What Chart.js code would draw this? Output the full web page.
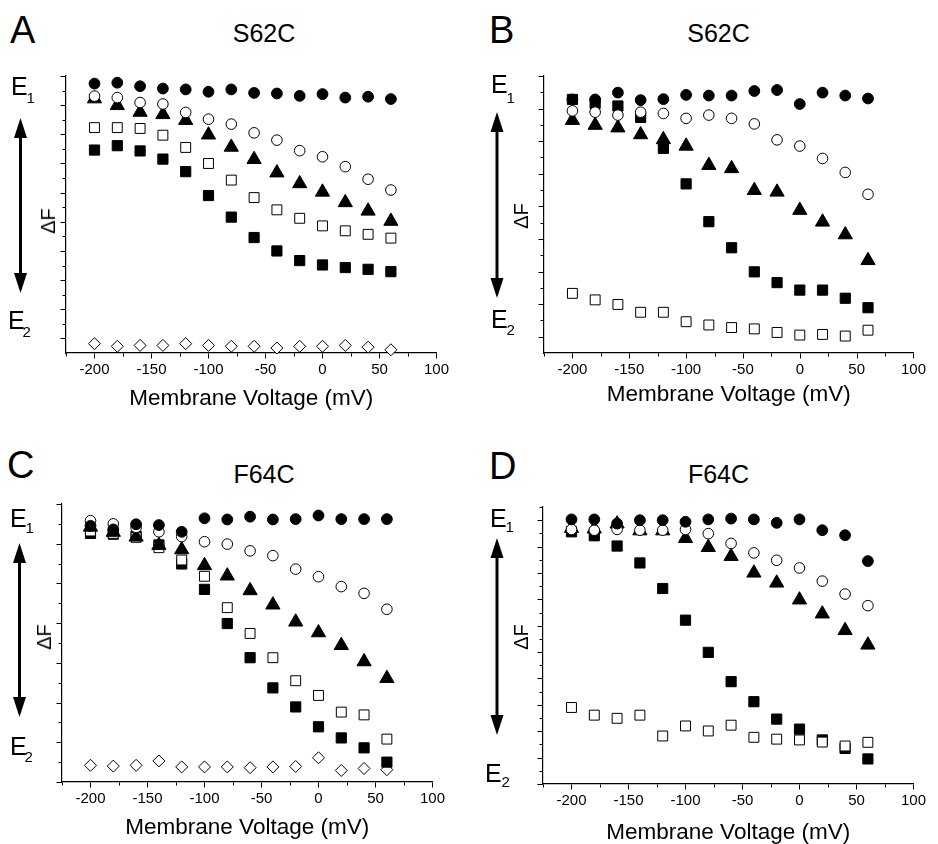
<!DOCTYPE html>
<html>
<head>
<meta charset="utf-8">
<script src="https://cdn.jsdelivr.net/npm/chart.js@4.4.1/dist/chart.umd.min.js"></script>
<style>
  html, body { margin: 0; padding: 0; background: #fff; width: 938px; height: 844px; overflow: hidden; }
  body { position: relative; font-family: 'Liberation Sans', Arial, sans-serif; color: #000; }
  canvas { position: absolute; }
  .t { position: absolute; line-height: 1; white-space: nowrap; }
  svg { position: absolute; left: 0; top: 0; }
</style>
</head>
<body>
<svg id="arrows" width="938" height="844"></svg>
<script>
// ---------------- DATA ----------------
const voltages = [-200, -180, -160, -140, -120, -100, -80, -60, -40, -20, 0, 20, 40, 60];
const xTickLabels = [-200, -150, -100, -50, 0, 50, 100];
const xMinorTicks = [-225, -175, -125, -75, -25, 25, 75];

// Panel A (S62C)
const aFilledCircle = [8.74, 8.77, 8.65, 8.57, 8.54, 8.46, 8.54, 8.42, 8.40, 8.32, 8.38, 8.26, 8.29, 8.21];
const aOpenCircle   = [8.31, 8.26, 8.09, 8.04, 7.75, 7.52, 7.35, 7.05, 6.80, 6.44, 6.23, 5.89, 5.46, 5.09];
const aTriangle     = [8.22, 7.99, 7.76, 7.68, 7.48, 6.98, 6.56, 6.14, 5.68, 5.31, 5.02, 4.66, 4.37, 4.02];
const aOpenSquare   = [7.23, 7.23, 7.20, 6.97, 6.55, 6.00, 5.43, 4.83, 4.41, 4.12, 3.86, 3.69, 3.57, 3.44];
const aFilledSquare = [6.46, 6.61, 6.43, 6.15, 5.72, 4.90, 4.16, 3.46, 3.00, 2.67, 2.52, 2.43, 2.37, 2.29];
const aDiamond      = [-0.18, -0.27, -0.24, -0.24, -0.18, -0.24, -0.27, -0.27, -0.33, -0.27, -0.27, -0.24, -0.30, -0.39];
const aYMajor = [0, 1, 2, 3, 4, 5, 6, 7, 8, 9];
const aYMinor = [0.5, 1.5, 2.5, 3.5, 4.5, 5.5, 6.5, 7.5, 8.5];

// Panel B (S62C)
const bFilledCircle = [7.28, 7.28, 7.49, 7.26, 7.29, 7.42, 7.40, 7.40, 7.54, 7.57, 7.14, 7.49, 7.40, 7.31];
const bOpenCircle   = [6.93, 6.89, 6.80, 6.89, 6.85, 6.70, 6.80, 6.70, 6.53, 6.04, 5.85, 5.47, 5.04, 4.37];
const bTriangle     = [6.64, 6.49, 6.41, 6.20, 6.05, 5.85, 5.26, 5.16, 4.49, 4.44, 3.88, 3.52, 3.13, 2.34];
const bFilledSquare = [7.28, 7.16, 7.08, 6.73, 5.78, 4.69, 3.53, 2.73, 1.99, 1.66, 1.43, 1.43, 1.18, 0.89];
const bOpenSquare   = [1.33, 1.13, 0.99, 0.75, 0.75, 0.46, 0.36, 0.28, 0.24, 0.13, 0.05, 0.07, 0.02, 0.20];
const bYMajor = [0, 1, 2, 3, 4, 5, 6, 7, 8];
const bYMinor = [0.5, 1.5, 2.5, 3.5, 4.5, 5.5, 6.5, 7.5];

// Panel C (F64C)
const cFilledCircle = [6.45, 6.36, 6.49, 6.47, 6.30, 6.64, 6.61, 6.68, 6.61, 6.62, 6.71, 6.62, 6.62, 6.62];
const cOpenCircle   = [6.58, 6.50, 6.41, 6.30, 6.18, 6.05, 5.99, 5.82, 5.70, 5.36, 5.17, 4.92, 4.75, 4.35];
const cTriangle     = [6.42, 6.29, 6.17, 5.96, 5.85, 5.45, 5.19, 4.82, 4.46, 4.03, 3.76, 3.44, 3.03, 2.61];
const cOpenSquare   = [6.32, 6.26, 6.16, 5.90, 5.59, 5.18, 4.39, 3.74, 3.13, 2.55, 2.18, 1.76, 1.69, 1.08];
const cFilledSquare = [6.26, 6.24, 6.19, 5.97, 5.49, 4.85, 3.99, 3.13, 2.37, 1.89, 1.39, 1.11, 0.86, 0.50];
const cDiamond      = [0.42, 0.40, 0.42, 0.53, 0.38, 0.38, 0.38, 0.36, 0.38, 0.39, 0.61, 0.29, 0.34, 0.31];
const cYMajor = [0, 1, 2, 3, 4, 5, 6, 7];
const cYMinor = [0.5, 1.5, 2.5, 3.5, 4.5, 5.5, 6.5];

// Panel D (F64C)
const dFilledCircle = [10.03, 10.03, 9.87, 10.00, 10.00, 9.94, 10.03, 10.06, 10.03, 9.90, 10.03, 9.62, 9.43, 8.45];
const dOpenCircle   = [9.65, 9.62, 9.65, 9.62, 9.62, 9.65, 9.49, 9.12, 8.76, 8.48, 8.19, 7.69, 7.20, 6.76];
const dTriangle     = [9.69, 9.67, 9.86, 9.60, 9.60, 9.31, 8.97, 8.63, 8.00, 7.62, 6.98, 6.45, 5.82, 5.27];
const dFilledSquare = [9.56, 9.41, 9.02, 8.38, 7.41, 6.21, 4.99, 3.88, 3.12, 2.46, 2.08, 1.67, 1.35, 0.95];
const dOpenSquare   = [2.90, 2.61, 2.49, 2.61, 1.82, 2.20, 2.01, 2.23, 1.77, 1.70, 1.67, 1.59, 1.44, 1.58];
const dYMajor = [0, 1, 2, 3, 4, 5, 6, 7, 8, 9, 10];
const dYMinor = [0.5, 1.5, 2.5, 3.5, 4.5, 5.5, 6.5, 7.5, 8.5, 9.5, 10.5];

const panelLetters = ['A', 'B', 'C', 'D'];
const panelTitles = ['S62C', 'S62C', 'F64C', 'F64C'];
const xAxisTitle = 'Membrane Voltage (mV)';
const yAxisTitle = '\u0394F';

// ---------------- STYLES ----------------
const FONT = "'Liberation Sans', Arial, sans-serif";
const STYLE = {
  filledCircle: { pointStyle: 'circle', radius: 5.4, bg: '#000' },
  openCircle:   { pointStyle: 'circle', radius: 5.3, bg: '#fff' },
  triangle:     { pointStyle: 'triangle', radius: 8.2, bg: '#000' },
  openSquare:   { pointStyle: 'rect', radius: 7, bg: '#fff' },
  filledSquare: { pointStyle: 'rect', radius: 7.2, bg: '#000' },
  diamond:      { pointStyle: 'rectRot', radius: 6, bg: '#fff' }
};

const tickPlugin = {
  id: 'tickMarks',
  afterDraw(chart, args, opts) {
    const ctx = chart.ctx, xs = chart.scales.x, ys = chart.scales.y, ca = chart.chartArea;
    ctx.save();
    ctx.strokeStyle = '#000';
    ctx.lineWidth = 1;
    ctx.beginPath();
    const yAxisX = Math.round(ca.left) - 0.5;
    const xAxisY = Math.round(ca.bottom) + 0.5;
    const drawX = (vals, len) => vals.forEach(v => {
      const px = Math.round(xs.getPixelForValue(v)) + 0.5;
      ctx.moveTo(px, xAxisY); ctx.lineTo(px, xAxisY + len);
    });
    const drawY = (vals, len) => vals.forEach(v => {
      const py = Math.round(ys.getPixelForValue(v)) + 0.5;
      ctx.moveTo(yAxisX, py); ctx.lineTo(yAxisX - len, py);
    });
    drawX(opts.xMajor, 5); drawX(opts.xMinor, 3);
    drawY(opts.yMajor, 5); drawY(opts.yMinor, 3);
    ctx.stroke();
    ctx.restore();
  }
};

// ---------------- LAYOUT ----------------
const PAD_L = 40, PAD_R = 12, PAD_T = 10, PAD_B = 66;
const panels = [
  { area: [66, 76, 445, 353], yMin: -0.5, yMax: 9, yMajor: aYMajor, yMinor: aYMinor, titleY: 399,
    series: [['filledCircle', aFilledCircle], ['openCircle', aOpenCircle], ['triangle', aTriangle], ['openSquare', aOpenSquare], ['filledSquare', aFilledSquare], ['diamond', aDiamond]] },
  { area: [544, 76, 922, 353], yMin: -0.5, yMax: 8, yMajor: bYMajor, yMinor: bYMinor, titleY: 394.5,
    series: [['filledCircle', bFilledCircle], ['openCircle', bOpenCircle], ['triangle', bTriangle], ['openSquare', bOpenSquare], ['filledSquare', bFilledSquare]] },
  { area: [62, 504, 441, 782], yMin: 0, yMax: 7, yMajor: cYMajor, yMinor: cYMinor, titleY: 828,
    series: [['filledCircle', cFilledCircle], ['openCircle', cOpenCircle], ['triangle', cTriangle], ['openSquare', cOpenSquare], ['filledSquare', cFilledSquare], ['diamond', cDiamond]] },
  { area: [543, 507, 922, 784], yMin: 0, yMax: 10.5, yMajor: dYMajor, yMinor: dYMinor, titleY: 833,
    series: [['filledCircle', dFilledCircle], ['openCircle', dOpenCircle], ['triangle', dTriangle], ['openSquare', dOpenSquare], ['filledSquare', dFilledSquare]] }
];

panels.forEach(p => {
  const [L, T, R, B] = p.area;
  const W = R - L + PAD_L + PAD_R, H = B - T + PAD_T + PAD_B;
  const cv = document.createElement('canvas');
  cv.width = W; cv.height = H;
  cv.style.left = (L - PAD_L) + 'px'; cv.style.top = (T - PAD_T) + 'px';
  cv.style.width = W + 'px'; cv.style.height = H + 'px';
  document.body.appendChild(cv);
  const titleSize = 22.5;
  const titleLH = titleSize * 1.2;
  const titlePadBottom = (B + PAD_B) - titleLH / 2 - p.titleY;
  new Chart(cv, {
    type: 'scatter',
    data: {
      datasets: p.series.map(([kind, vals]) => ({
        label: kind,
        data: voltages.map((v, i) => ({ x: v, y: vals[i] })),
        pointStyle: STYLE[kind].pointStyle,
        pointRadius: STYLE[kind].radius,
        pointBackgroundColor: STYLE[kind].bg,
        pointBorderColor: '#000',
        pointBorderWidth: 1,
        showLine: false,
        clip: false
      }))
    },
    options: {
      responsive: false, animation: false, devicePixelRatio: 1, events: [],
      layout: { padding: { left: 0, right: PAD_R, top: PAD_T, bottom: 0 } },
      plugins: {
        legend: { display: false }, tooltip: { enabled: false }, title: { display: false },
        tickMarks: { xMajor: xTickLabels, xMinor: xMinorTicks, yMajor: p.yMajor, yMinor: p.yMinor }
      },
      scales: {
        x: {
          type: 'linear', min: -225, max: 100,
          afterBuildTicks: s => { s.ticks = xTickLabels.map(v => ({ value: v })); },
          afterFit: s => { s.height = PAD_B; },
          grid: { display: false, drawTicks: false },
          border: { display: true, color: '#000', width: 1.2 },
          ticks: { color: '#000', font: { family: FONT, size: 15 }, padding: 8, maxRotation: 0, autoSkip: false },
          title: { display: true, text: xAxisTitle, color: '#000', font: { family: FONT, size: titleSize },
                   padding: { top: 0, bottom: titlePadBottom } }
        },
        y: {
          type: 'linear', min: p.yMin, max: p.yMax,
          afterBuildTicks: s => { s.ticks = p.yMajor.map(v => ({ value: v })); },
          afterFit: s => { s.width = PAD_L; },
          grid: { display: false, drawTicks: false },
          border: { display: true, color: '#000', width: 1.2 },
          ticks: { display: false }
        }
      }
    },
    plugins: [tickPlugin]
  });
});

// ---------------- TEXT ----------------
function txt(s, x, baseline, size, center, extra) {
  const d = document.createElement('div');
  d.className = 't';
  d.textContent = s;
  d.style.fontSize = size + 'px';
  d.style.left = x + 'px';
  d.style.top = (baseline - 0.8465 * size) + 'px';
  if (center) d.style.transform = 'translateX(-50%)';
  if (extra) Object.assign(d.style, extra);
  document.body.appendChild(d);
  return d;
}
const letterPos = [[10, 43], [489, 43], [7, 478], [489, 479]];
const titlePos = [[264, 42], [718.5, 42], [264, 483], [718.5, 483]];
panelLetters.forEach((s, i) => txt(s, letterPos[i][0], letterPos[i][1], 38, false));
panelTitles.forEach((s, i) => txt(s, titlePos[i][0], titlePos[i][1], 25, true));

// E1 / E2 labels: [sub, E left, E baseline, sub left, sub baseline]
const eLabels = [
  ['1', 11, 95, 26.5, 103], ['2', 8, 329, 22.5, 337],
  ['1', 491, 93, 506.5, 103], ['2', 491, 328, 506.5, 335],
  ['1', 10, 527, 25.5, 533], ['2', 10, 755, 24.5, 762],
  ['1', 490, 527, 505.5, 532], ['2', 485, 782, 501.5, 787]
];
eLabels.forEach(([sub, ex, eb, sx, sb]) => { txt('E', ex, eb, 25, false); txt(sub, sx, sb, 15, false); });

// Delta F rotated labels (center positions)
const dfPos = [[47.5, 221], [521, 216], [44, 637], [521, 637]];
dfPos.forEach(([cx, cy]) => {
  const d = document.createElement('div');
  d.className = 't';
  d.textContent = yAxisTitle;
  d.style.fontSize = '20px';
  d.style.left = cx + 'px';
  d.style.top = cy + 'px';
  d.style.transform = 'translate(-50%, -50%) rotate(-90deg)';
  document.body.appendChild(d);
});

// Double-headed arrows [x, yTop, yBottom]
const arrows = [[20.5, 118, 293], [497, 112, 298], [19.5, 543, 717], [497, 538, 735]];
const svg = document.getElementById('arrows');
const NS = 'http://www.w3.org/2000/svg';
arrows.forEach(([x, y1, y2]) => {
  const hl = 20, hw = 6.5;
  const line = document.createElementNS(NS, 'line');
  line.setAttribute('x1', x); line.setAttribute('x2', x);
  line.setAttribute('y1', y1 + hl - 1); line.setAttribute('y2', y2 - hl + 1);
  line.setAttribute('stroke', '#000'); line.setAttribute('stroke-width', 3);
  svg.appendChild(line);
  [[y1, y1 + hl], [y2, y2 - hl]].forEach(([tip, base]) => {
    const pg = document.createElementNS(NS, 'polygon');
    pg.setAttribute('points', `${x},${tip} ${x - hw},${base} ${x + hw},${base}`);
    pg.setAttribute('fill', '#000');
    svg.appendChild(pg);
  });
});
</script>
</body>
</html>
